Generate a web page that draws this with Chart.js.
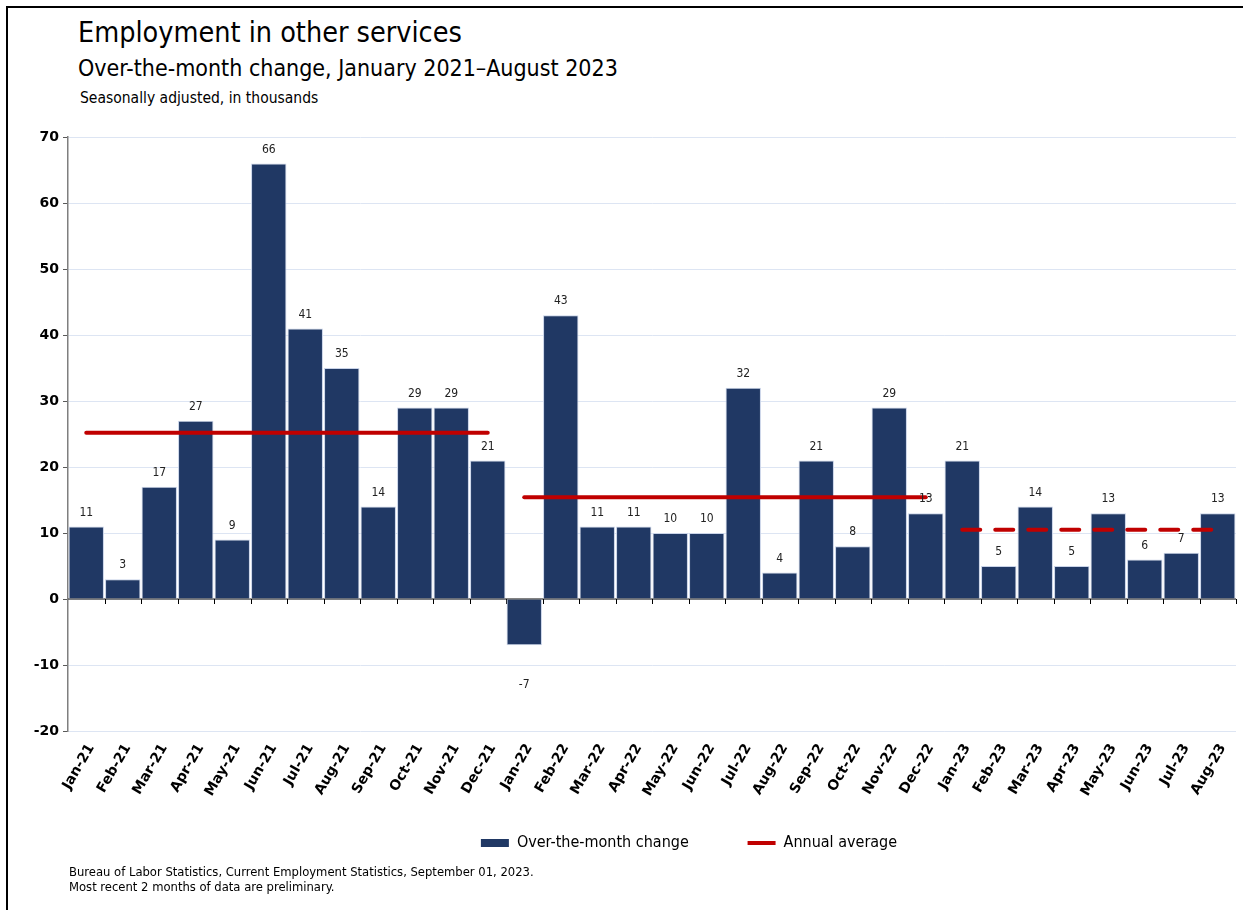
<!DOCTYPE html>
<html>
<head>
<meta charset="utf-8">
<script src="https://cdn.jsdelivr.net/npm/chart.js@4"></script>
<style>
  body { margin: 0; background: #fff; font-family: "DejaVu Sans Condensed", "Noto Sans", sans-serif; }
  #frame { position: absolute; left: 6px; top: 6px; width: 1250px; height: 920px; border-left: 2px solid #000; border-top: 2px solid #000; }
  #title { position: absolute; left: 78px; top: 16px; font-size: 28.5px; color: #000; }
  #subtitle { position: absolute; left: 78px; top: 55px; font-size: 23px; color: #000; }
  #note { position: absolute; left: 80px; top: 89px; font-size: 15.5px; color: #000; }
  #source { position: absolute; left: 69px; top: 864px; font-size: 12.9px; line-height: 15px; color: #000; }
  #wrap { position: absolute; left: 10px; top: 100px; width: 1233px; height: 770px; }
</style>
</head>
<body>
<div id="frame"></div>
<div id="title">Employment in other services</div>
<div id="subtitle">Over-the-month change, January 2021–August 2023</div>
<div id="note">Seasonally adjusted, in thousands</div>
<div id="wrap"><canvas id="chart"></canvas></div>
<div id="source">Bureau of Labor Statistics, Current Employment Statistics, September 01, 2023.<br>Most recent 2 months of data are preliminary.</div>
<script>
const months = [
  'Jan-21', 'Feb-21', 'Mar-21', 'Apr-21', 'May-21', 'Jun-21', 'Jul-21', 'Aug-21', 'Sep-21', 'Oct-21', 'Nov-21', 'Dec-21',
  'Jan-22', 'Feb-22', 'Mar-22', 'Apr-22', 'May-22', 'Jun-22', 'Jul-22', 'Aug-22', 'Sep-22', 'Oct-22', 'Nov-22', 'Dec-22',
  'Jan-23', 'Feb-23', 'Mar-23', 'Apr-23', 'May-23', 'Jun-23', 'Jul-23', 'Aug-23',
];

const monthlyChange = [
  11, 3, 17, 27, 9, 66, 41, 35, 14, 29, 29, 21,
  -7, 43, 11, 11, 10, 10, 32, 4, 21, 8, 29, 13,
  21, 5, 14, 5, 13, 6, 7, 13,
];

// annual averages
const avgYears = ['21', '22', '23'];
const avgValues = [25.2, 15.4, 10.5];

const yTicks = [-20, -10, 0, 10, 20, 30, 40, 50, 60, 70];

const barColor = '#203864';
const avgColor = '#c00000';
const condensed = '"DejaVu Sans Condensed", "Noto Sans", sans-serif';

// one line dataset per year, only covering that year's months
const avgDatasets = avgYears.map((yr, i) => ({
  type: 'line',
  label: 'Annual average',
  data: months.map(m => m.endsWith('-' + yr) ? avgValues[i] : null),
  borderColor: avgColor,
  backgroundColor: avgColor,
  borderWidth: 4,
  borderCapStyle: 'round',
  borderDash: yr === '23' ? [18, 15] : [],
  pointRadius: 0,
  spanGaps: false,
  order: 0,
}));

const zeroAxis = {
  id: 'zeroAxis',
  beforeDatasetsDraw(chart) {
    const { ctx, scales: { x, y } } = chart;
    const y0 = y.getPixelForValue(0);
    ctx.save();
    ctx.strokeStyle = '#595959';
    ctx.lineWidth = 1.5;
    ctx.beginPath();
    ctx.moveTo(x.left, y0);
    ctx.lineTo(x.right, y0);
    ctx.stroke();
    ctx.lineWidth = 1;
    ctx.strokeStyle = '#000';
    const step = (x.right - x.left) / months.length;
    for (let i = 1; i <= months.length; i++) {
      const px = Math.round(x.left + step * i) + 0.5;
      ctx.beginPath();
      ctx.moveTo(px, y0);
      ctx.lineTo(px, y0 + 5);
      ctx.stroke();
    }
    ctx.restore();
  }
};

const barLabels = {
  id: 'barLabels',
  afterDatasetsDraw(chart) {
    const { ctx } = chart;
    const meta = chart.getDatasetMeta(0);
    ctx.save();
    ctx.font = '12px ' + condensed;
    ctx.fillStyle = '#222';
    ctx.textAlign = 'center';
    ctx.textBaseline = 'middle';
    meta.data.forEach((bar, i) => {
      const v = monthlyChange[i];
      const ty = v >= 0 ? bar.y - 14 : bar.y + 40;
      ctx.fillText(String(v), bar.x, ty);
    });
    ctx.restore();
  }
};

// legend sits right of centre in the original
const legendShift = {
  id: 'legendShift',
  afterLayout(chart) {
    chart.legend.left += 66;
    chart.legend.right += 66;
  }
};

new Chart(document.getElementById('chart'), {
  data: {
    labels: months,
    datasets: [
      {
        type: 'bar',
        label: 'Over-the-month change',
        data: monthlyChange,
        backgroundColor: barColor,
        borderColor: '#c9d3e8',
        borderWidth: 1,
        barPercentage: 0.97,
        categoryPercentage: 1,
        order: 1,
      },
      ...avgDatasets,
    ],
  },
  options: {
    responsive: true,
    maintainAspectRatio: false,
    animation: false,
    layout: { padding: { top: 37, right: 7, bottom: 9, left: 0 } },
    plugins: {
      tooltip: { enabled: false },
      legend: {
        position: 'bottom',
        labels: {
          usePointStyle: true,
          pointStyleWidth: 28,
          boxHeight: 8,
          padding: 30,
          color: '#000',
          font: { family: condensed, size: 16 },
          // trailing em spaces widen the gap between the two items
          generateLabels: () => [
            { text: 'Over-the-month change\u2003\u2003', fillStyle: barColor, strokeStyle: barColor, lineWidth: 0, pointStyle: 'rect', datasetIndex: 0 },
            { text: 'Annual average', fillStyle: avgColor, strokeStyle: avgColor, lineWidth: 4, pointStyle: 'line', datasetIndex: 1 },
          ],
        },
      },
    },
    scales: {
      x: {
        grid: { display: false },
        border: { display: false },
        ticks: {
          color: '#000',
          maxRotation: 60,
          minRotation: 60,
          autoSkip: false,
          padding: 2,
          labelOffset: 5,
          font: { family: '"DejaVu Sans", sans-serif', size: 14, weight: 'bold' },
        },
        afterFit(s) { s.height = 74; },
      },
      y: {
        min: -20,
        max: 70,
        afterBuildTicks(s) { s.ticks = yTicks.map(v => ({ value: v })); },
        grid: {
          color: '#dde5f3',
          tickColor: '#595959',
          tickLength: 5,
        },
        border: { color: '#7f7f7f', width: 1.5 },
        ticks: {
          color: '#000',
          padding: 4,
          font: { family: '"DejaVu Sans", sans-serif', size: 14, weight: 'bold' },
        },
        afterFit(s) { s.width = 58; },
      },
    },
  },
  plugins: [zeroAxis, barLabels, legendShift],
});
</script>
</body>
</html>
